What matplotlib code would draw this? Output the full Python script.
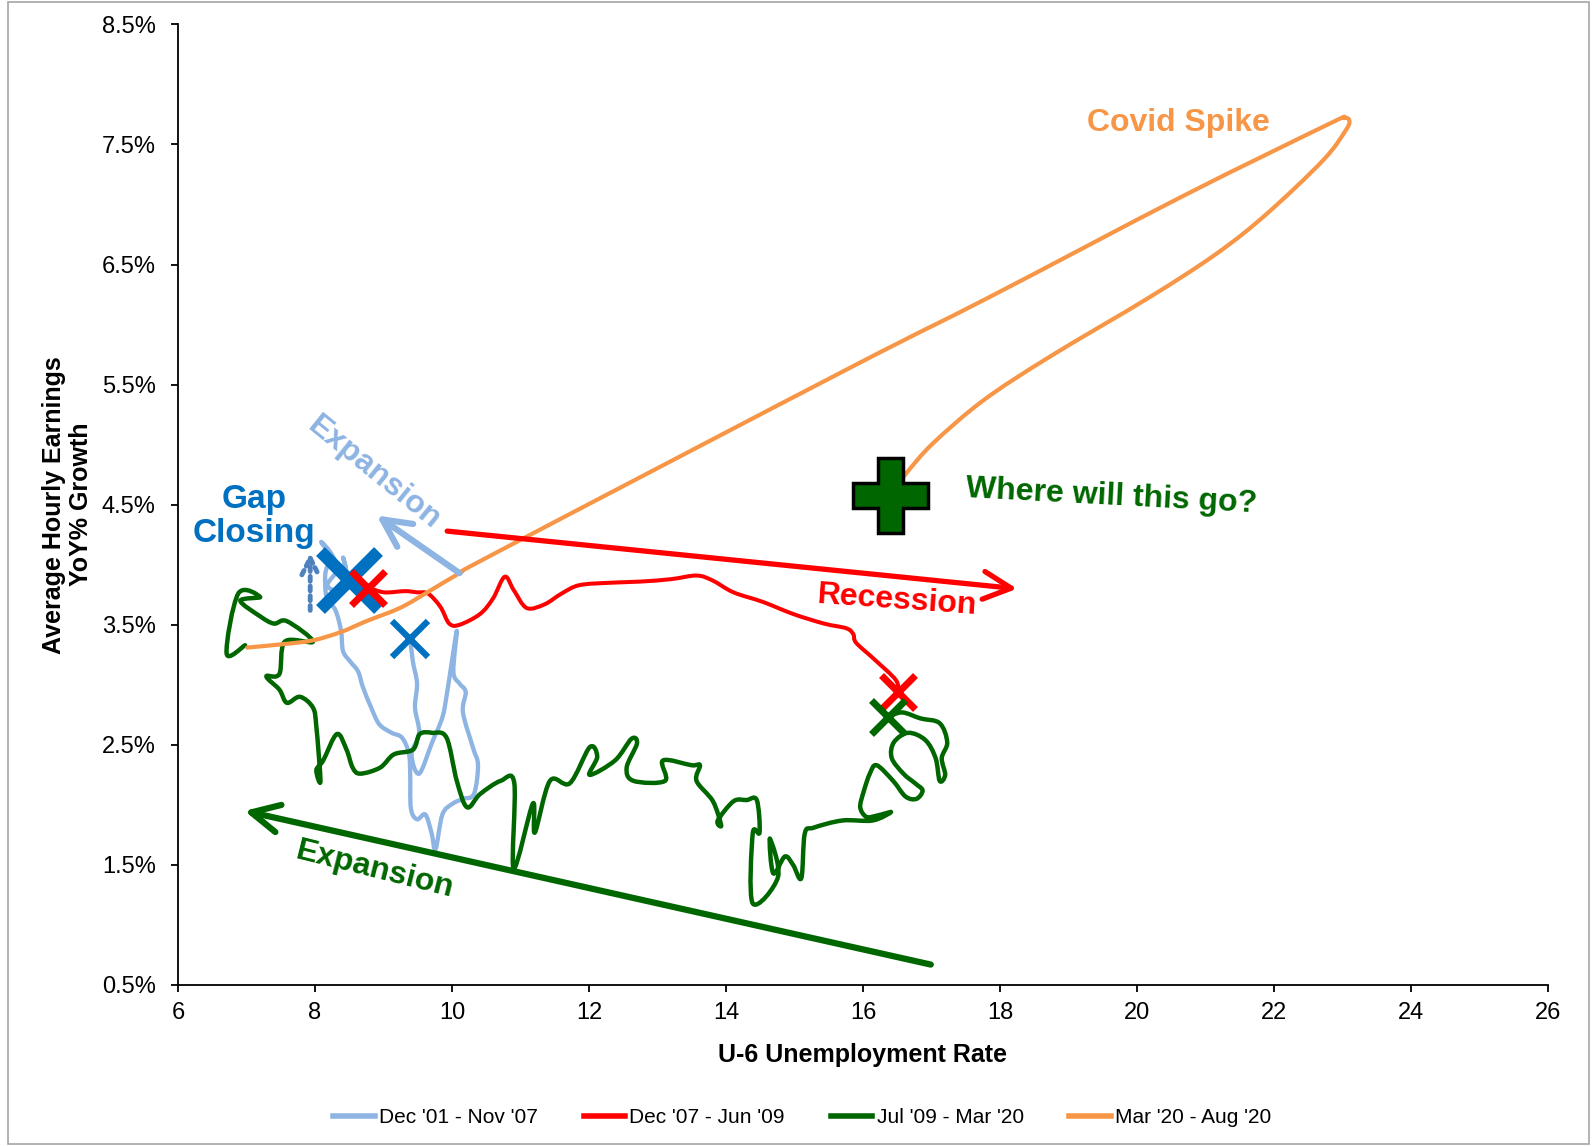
import matplotlib
matplotlib.use("Agg")
import numpy as np
import matplotlib.pyplot as plt
from matplotlib.patches import Rectangle, PathPatch
from matplotlib.path import Path
from matplotlib.lines import Line2D

plt.rcParams['font.family'] = ['Liberation Sans', 'DejaVu Sans']

# ---------------- data ----------------
series_labels = ["Dec '01 - Nov '07", "Dec '07 - Jun '09", "Jul '09 - Mar '20", "Mar '20 - Aug '20"]

blue_x = [9.39, 9.43, 9.49, 9.46, 9.52, 9.41, 9.52, 9.71, 9.86, 9.93, 10.07, 10.02, 10.11, 10.20, 10.16,
          10.31, 10.38, 10.32, 10.16, 10.01, 9.86, 9.76, 9.70, 9.61, 9.49, 9.40, 9.39, 9.37, 9.27, 9.12,
          8.94, 8.82, 8.70, 8.63, 8.52, 8.41, 8.38, 8.30, 8.17, 8.15, 8.21, 8.09, 8.24, 8.32, 8.18,
          8.35, 8.45, 8.41, 8.49]
blue_y = [3.38, 3.19, 3.01, 2.81, 2.60, 2.42, 2.26, 2.52, 2.73, 2.94, 3.45, 3.11, 3.01, 2.94, 2.77,
          2.47, 2.33, 2.09, 2.05, 2.01, 1.92, 1.63, 1.77, 1.92, 1.88, 1.97, 2.26, 2.43, 2.56, 2.60,
          2.67, 2.81, 2.98, 3.11, 3.19, 3.28, 3.45, 3.62, 3.73, 3.92, 4.07, 4.19, 4.09, 3.96, 3.83,
          3.79, 3.94, 4.06, 3.87]

red_x = [8.78, 9.01, 9.31, 9.49, 9.65, 9.83, 9.96, 10.11, 10.41, 10.60, 10.77, 10.90, 11.09, 11.35,
         11.60, 11.86, 12.31, 12.76, 13.20, 13.57, 13.80, 14.11, 14.54, 14.98, 15.43, 15.76, 15.86,
         15.90, 16.17, 16.48, 16.51]
red_y = [3.81, 3.77, 3.78, 3.77, 3.76, 3.65, 3.51, 3.50, 3.59, 3.72, 3.90, 3.79, 3.64, 3.67,
         3.76, 3.83, 3.85, 3.86, 3.88, 3.91, 3.87, 3.77, 3.69, 3.59, 3.51, 3.47, 3.42,
         3.35, 3.21, 3.04, 2.94]

green_x = [16.36, 16.57, 16.84, 17.12, 17.23, 17.15, 17.20, 17.12, 17.06, 16.91,
           16.66, 16.45, 16.42, 16.59, 16.76, 16.87, 16.78, 16.62, 16.44, 16.20,
           16.10, 16.01, 15.96, 16.05, 16.20, 16.41, 16.14, 15.70, 15.28, 15.15,
           15.10, 14.98, 14.86, 14.69, 14.64, 14.76, 14.39, 14.39, 14.49, 14.45,
           14.30, 14.11, 13.88, 13.93, 13.81, 13.57, 13.62, 13.50, 13.08, 13.11,
           12.65, 12.55, 12.70, 12.62, 12.38, 12.01, 12.12, 12.01, 11.72, 11.43,
           11.21, 11.18, 10.90, 10.91, 10.71, 10.41, 10.22, 10.07, 9.92, 9.71,
           9.53, 9.43, 9.15, 8.95, 8.66, 8.55, 8.46, 8.32, 8.12, 8.02,
           8.08, 8.02, 7.97, 7.78, 7.59, 7.48, 7.29, 7.48, 7.56, 7.97,
           7.59, 7.40, 7.20, 6.91, 7.20, 6.88, 6.71, 6.98]
green_y = [2.73, 2.77, 2.72, 2.68, 2.52, 2.39, 2.25, 2.20, 2.39, 2.54,
           2.60, 2.52, 2.39, 2.26, 2.18, 2.12, 2.05, 2.07, 2.20, 2.33,
           2.26, 2.11, 1.98, 1.90, 1.91, 1.94, 1.87, 1.87, 1.81, 1.76,
           1.39, 1.50, 1.57, 1.43, 1.72, 1.40, 1.18, 1.76, 1.77, 2.04,
           2.04, 2.03, 1.87, 1.83, 2.03, 2.20, 2.33, 2.33, 2.37, 2.20,
           2.20, 2.31, 2.51, 2.55, 2.37, 2.25, 2.40, 2.48, 2.18, 2.20,
           1.77, 2.01, 1.47, 2.18, 2.20, 2.09, 1.98, 2.20, 2.56, 2.60,
           2.59, 2.46, 2.42, 2.31, 2.26, 2.31, 2.46, 2.59, 2.37, 2.29,
           2.20, 2.65, 2.81, 2.90, 2.85, 2.96, 3.07, 3.09, 3.36, 3.36,
           3.53, 3.51, 3.57, 3.70, 3.73, 3.76, 3.26, 3.33]

orange_x = [7.01, 7.56, 7.97, 8.38, 8.75, 9.24, 9.64, 10.11, 10.71, 15.81, 17.85, 20.67, 22.80,
            23.02, 23.10, 23.05, 22.72, 21.89, 21.16, 20.19, 18.72, 17.76, 17.02, 16.63, 16.39]
orange_y = [3.31, 3.34, 3.37, 3.44, 3.53, 3.64, 3.77, 3.93, 4.12, 5.64, 6.23, 7.07, 7.67,
            7.72, 7.70, 7.62, 7.37, 6.92, 6.59, 6.23, 5.73, 5.37, 5.01, 4.76, 4.58]

x_ticks = [6, 8, 10, 12, 14, 16, 18, 20, 22, 24, 26]
y_ticks = [0.5, 1.5, 2.5, 3.5, 4.5, 5.5, 6.5, 7.5, 8.5]
y_tick_labels = ["0.5%", "1.5%", "2.5%", "3.5%", "4.5%", "5.5%", "6.5%", "7.5%", "8.5%"]

# ---------------- colours ----------------
C_LBLUE = '#8DB4E2'
C_RED = '#FF0000'
C_GREEN = '#006600'
C_ORANGE = '#F79646'
C_BLUE = '#0070C0'
C_STEEL = '#4F81BD'


def smooth_path(xs, ys):
    """Smoothed line through the data points (like a spreadsheet 'smoothed line')."""
    p = np.column_stack([xs, ys]).astype(float)
    n = len(p)
    verts = [p[0]]
    codes = [Path.MOVETO]
    for i in range(n - 1):
        p0 = p[i - 1] if i > 0 else p[i]
        p1, p2 = p[i], p[i + 1]
        p3 = p[i + 2] if i + 2 < n else p[i + 1]
        verts += [p1 + (p2 - p0) / 6.0, p2 - (p3 - p1) / 6.0, p2]
        codes += [Path.CURVE4] * 3
    return Path(verts, codes)


fig = plt.figure(figsize=(15.95, 11.46), dpi=100)
ax = fig.add_axes([0.1116, 0.1405, 0.8589, 0.8382])

series = [(blue_x, blue_y, C_LBLUE, 3.1, 2),
          (red_x, red_y, C_RED, 2.9, 3),
          (green_x, green_y, C_GREEN, 3.2, 3),
          (orange_x, orange_y, C_ORANGE, 3.0, 4)]
handles = []
for xs, ys, col, lw, z in series:
    ax.add_patch(PathPatch(smooth_path(xs, ys), fill=False, edgecolor=col, lw=lw,
                           joinstyle='round', capstyle='round', zorder=z))
    handles.append(Line2D([], [], color=col, lw=4))

# start / end markers
ax.plot([blue_x[0]], [blue_y[0]], marker='x', ms=26, mew=4.5, color=C_BLUE, ls='none', zorder=6)
ax.plot([blue_x[-1]], [blue_y[-1]], marker='x', ms=42, mew=9, color=C_BLUE, ls='none', zorder=6)
ax.plot([red_x[0]], [red_y[0]], marker='x', ms=24, mew=5, color=C_RED, ls='none', zorder=7)
ax.plot([red_x[-1]], [red_y[-1]], marker='x', ms=24, mew=5, color=C_RED, ls='none', zorder=7)
ax.plot([green_x[0]], [green_y[0]], marker='x', ms=24, mew=5, color=C_GREEN, ls='none', zorder=7)
ax.plot([orange_x[-1]], [orange_y[-1]], marker='P', ms=54, mew=2.5, mfc=C_GREEN, mec='black',
        ls='none', zorder=8)


# annotation arrows
def arrow(tail, head, color, lw, ls='-', scale=20):
    ax.annotate('', xy=head, xytext=tail,
                arrowprops=dict(arrowstyle='->,head_length=1.0,head_width=0.5', lw=lw, color=color,
                                linestyle=ls, mutation_scale=scale, shrinkA=0, shrinkB=0),
                zorder=5)


arrow((10.11, 3.93), (8.90, 4.41), C_LBLUE, 4.5)
arrow((9.93, 4.28), (18.25, 3.80), C_RED, 3.8)
arrow((16.99, 0.67), (6.97, 1.95), C_GREEN, 4.5)
arrow((7.93, 3.62), (7.93, 4.10), C_STEEL, 3.5, ls=(0, (1, 1)), scale=12)

tkw = dict(fontsize=23, fontweight='bold', ha='center', va='center')
ax.text(20.60, 7.68, 'Covid Spike', color=C_ORANGE, **tkw)
ax.text(19.62, 4.57, 'Where will this go?', color=C_GREEN, rotation=-3, **tkw)
ax.text(16.50, 3.70, 'Recession', color=C_RED, rotation=-4, **tkw)
ax.text(8.87, 4.76, 'Expansion', color=C_LBLUE, rotation=-39, **tkw)
ax.text(8.88, 1.46, 'Expansion', color=C_GREEN, rotation=-14, **tkw)
ax.text(7.11, 4.40, 'Gap\nClosing', color=C_BLUE, linespacing=1.12,
        fontsize=24, fontweight='bold', ha='center', va='center')

# axes styling
ax.set_xlim(6, 26)
ax.set_ylim(0.5, 8.5)
ax.set_xticks(x_ticks)
ax.set_yticks(y_ticks)
ax.set_yticklabels(y_tick_labels)
for s in ['top', 'right']:
    ax.spines[s].set_visible(False)
for s in ['left', 'bottom']:
    ax.spines[s].set_linewidth(1.3)
ax.tick_params(direction='out', length=5, width=1.3, labelsize=17)
ax.tick_params(axis='y', pad=11)
ax.tick_params(axis='x', pad=7)

ax.set_xlabel('U-6 Unemployment Rate', fontsize=18, fontweight='bold')
ax.xaxis.set_label_coords(0.5, -0.06)
ax.set_ylabel('Average Hourly Earnings\nYoY% Growth', fontsize=18, fontweight='bold', linespacing=1.15)
ax.yaxis.set_label_coords(-0.062, 0.5)

leg = fig.legend(handles=handles, labels=series_labels, ncol=4, loc='center',
                 bbox_to_anchor=(0.503, 0.025), frameon=False,
                 prop=dict(family=['Liberation Sans'], size=15),
                 handlelength=2.0, columnspacing=2.2, handletextpad=0.2)

fig.patches.append(Rectangle((0.005, 0.002), 0.991, 0.996, transform=fig.transFigure,
                             fill=False, edgecolor='#A6A6A6', lw=1.2))

fig.savefig('out.png', dpi=100)
